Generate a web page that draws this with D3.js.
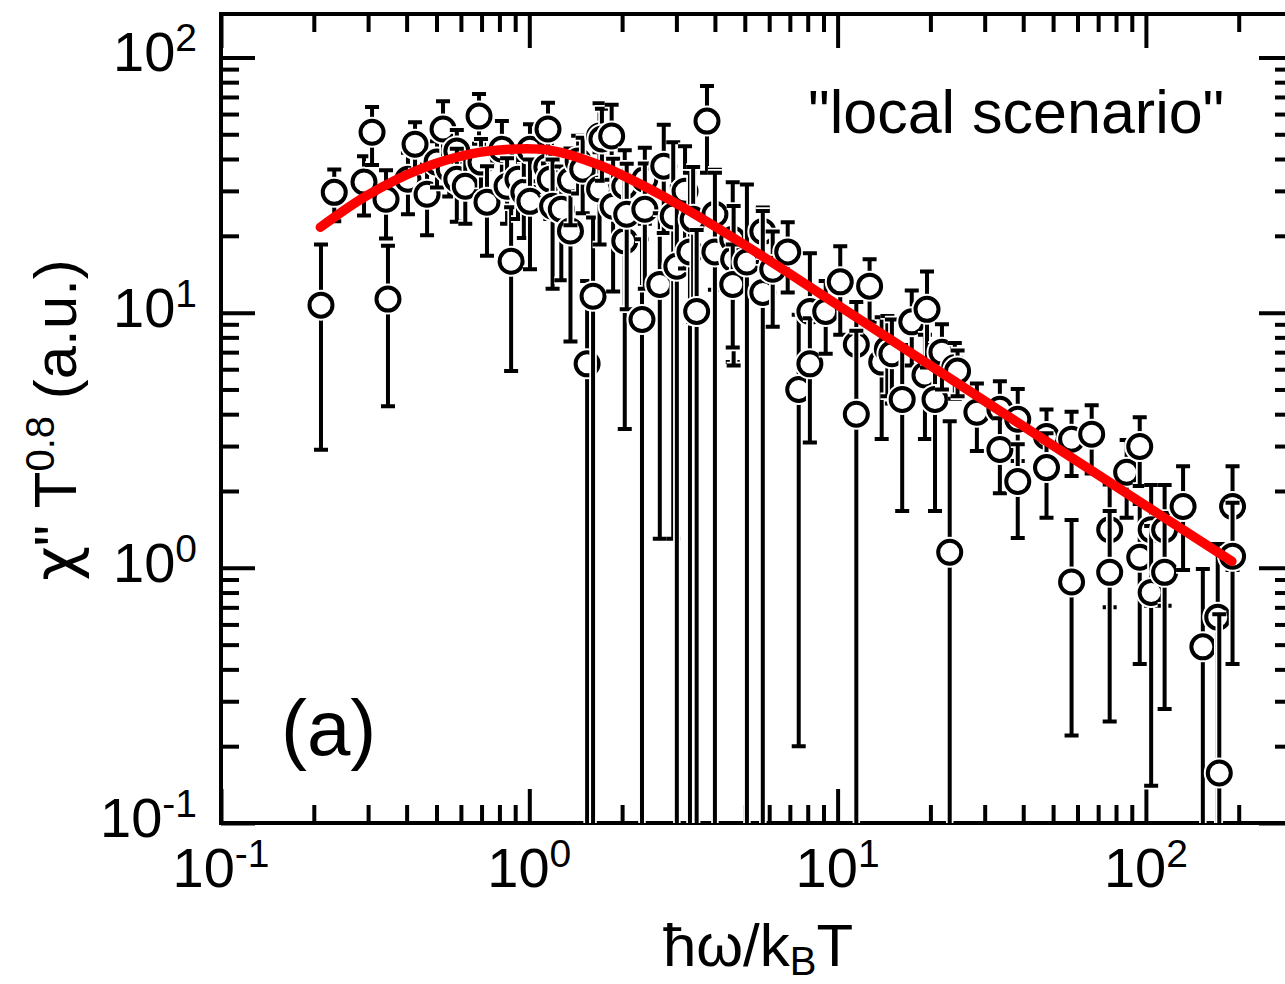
<!DOCTYPE html>
<html>
<head>
<meta charset="utf-8">
<script src="https://cdn.jsdelivr.net/npm/d3@7"></script>
<style>
  body { margin: 0; background: #fff; }
  text { font-family: "Liberation Sans", Arial, Helvetica, sans-serif; fill: #000; }
</style>
</head>
<body>
<svg id="chart" width="1285" height="984"></svg>
<script>
// data: hbar*omega/kBT, chi'' T^0.8, error
const omega = [0.211,0.233,0.291,0.309,0.343,0.348,0.404,0.426,0.466,0.502,0.525,0.55,0.582,0.582,0.62,
  0.687,0.697,0.729,0.815,0.847,0.873,0.919,0.96,1.005,1.005,1.14,1.15,1.17,1.19,1.27,1.36,1.36,1.44,1.49,
  1.54,1.61,1.69,1.69,1.72,1.85,1.87,2.04,2.04,2.07,2.32,2.37,2.37,2.65,2.73,2.93,3.01,3.2,3.32,3.4,3.49,
  3.77,4.0,4.0,4.57,4.6,4.57,5.08,5.72,5.72,6.16,6.89,7.48,8.13,8.13,9.15,10.2,11.5,11.5,12.7,13.9,14.5,
  15.0,16.2,17.4,19.2,19.5,20.7,21.8,23.1,24.0,24.5,28.3,33.6,33.6,38.4,38.4,47.6,47.6,57.4,57.4,66.7,
  76.3,76.3,86.6,95.5,95.5,104,104,115,115,132,153,171,173,191,191];
const chi = [10.7,29.6,32.5,50.9,27.8,11.3,33.3,45.7,29.1,38.9,52.4,36.5,43.0,33.3,31.3,
  58.9,38.9,27.1,43.7,31.3,15.9,33.3,29.6,43.7,27.3,37.2,52.4,33.3,26.1,25.4,20.9,33.0,39.3,36.5,
  6.3,11.6,49.2,30.5,47.9,49.2,26.1,31.3,19.1,24.3,9.4,33.3,25.4,12.9,37.5,23.9,15.2,29.9,17.3,23.2,10.1,
  56.3,24.3,17.3,19.4,16.2,12.9,15.8,20.8,12.0,14.8,17.3,5.0,10.1,6.3,10.1,13.2,7.5,4.0,12.7,6.4,7.2,
  6.9,4.57,9.2,5.7,10.3,4.57,7.0,1.15,6.1,5.9,4.07,4.18,2.91,3.82,2.18,3.27,2.47,3.19,0.88,3.34,
  1.41,0.96,2.37,2.99,1.10,1.41,0.80,1.41,0.96,1.74,0.49,0.64,0.157,1.74,1.11];
const chiErr = [7.8,6.8,8.5,13,8.3,7.0,9,10,9,8,15,8,9,10.6,9,
  13,9,10.4,12.6,9,10,10,10,11,12.5,9,14,10,13.7,12,13.2,11,10,12,
  7,12,17,12,15,16,14,12,15.6,14,10,11,13,11.6,17,22.6,16,15,18,14,11,
  21,12,18,13,10,5.6,16,5,13,6,5.3,4.8,7,3.2,3.2,5,3.5,4.5,3.5,3.2,2.5,
  2.5,2.9,3,2.5,4.2,2.9,2,2.6,1.5,1.2,1.2,1.2,0.95,1.2,0.87,0.9,0.9,0.9,0.66,1.0,
  0.71,0.71,0.8,0.9,0.68,0.7,0.66,0.7,0.68,0.76,0.5,0.6,0.5,0.76,0.69];

// red fit curve
const fitX = [0.21,0.298,0.442,0.641,0.866,1.166,1.694,2.79,4.57,7.53,15.9,43.5,190];
const fitY = [21.6,28.8,36.5,41.8,43.7,43.3,37.8,28.1,19.7,13.4,7.44,3.36,1.06];

const xMajor = [0.1, 1, 10, 100];
const yMajor = [0.1, 1, 10, 100];
const xDomain = [0.1, 300];
const yDomain = [0.1, 148];

const plotL = 221, plotR = 1293, plotT = 14, plotB = 823;
const majorLen = 34, minorLen = 18;

const svg = d3.select("#chart");

const x = d3.scaleLog().domain(xDomain).range([plotL, plotR]);
const y = d3.scaleLog().domain(yDomain).range([plotB, plotT]);

function minors(domain) {
  const out = [];
  for (let d = 0.1; d < domain[1]; d *= 10) {
    for (let k = 2; k <= 9; k++) {
      if (d * k <= domain[1]) out.push(d * k);
    }
  }
  return out;
}

function styleAxis(g) {
  g.select(".domain").remove();
  g.selectAll("line").attr("stroke", "#000").attr("stroke-width", 4);
}

// ticks on all four sides, pointing inward
const axes = [
  [d3.axisBottom(x), `translate(0,${plotB})`, xMajor, minors(xDomain)],
  [d3.axisTop(x), `translate(0,${plotT})`, xMajor, minors(xDomain)],
  [d3.axisLeft(y), `translate(${plotL},0)`, yMajor, minors(yDomain)],
  [d3.axisRight(y), `translate(${plotR},0)`, yMajor, minors(yDomain)]
];
axes.forEach(([ax, tr, maj, mnr]) => {
  svg.append("g").attr("transform", tr)
    .call(ax.tickValues(maj).tickSize(-majorLen).tickFormat(""))
    .call(styleAxis);
  svg.append("g").attr("transform", tr)
    .call(ax.tickValues(mnr).tickSize(-minorLen).tickFormat(""))
    .call(styleAxis);
});

svg.append("rect")
  .attr("x", plotL).attr("y", plotT)
  .attr("width", plotR - plotL).attr("height", plotB - plotT)
  .attr("fill", "none").attr("stroke", "#000").attr("stroke-width", 4);

// tick labels as 10^n
function powerLabel(sel, exp) {
  sel.append("tspan").text("10");
  sel.append("tspan").attr("font-size", 39).attr("dy", -20).text(exp);
}
xMajor.forEach(v => {
  svg.append("text")
    .attr("x", x(v)).attr("y", 887)
    .attr("text-anchor", "middle").attr("font-size", 56)
    .call(powerLabel, Math.round(Math.log10(v)));
});
yMajor.forEach(v => {
  svg.append("text")
    .attr("x", 197).attr("y", y(v) + 14)
    .attr("text-anchor", "end").attr("font-size", 56)
    .call(powerLabel, Math.round(Math.log10(v)));
});

// axis titles
const xt = svg.append("text")
  .attr("x", 758).attr("y", 966)
  .attr("text-anchor", "middle").attr("font-size", 60);
xt.append("tspan").text("ħω/k");
xt.append("tspan").attr("font-size", 40).attr("dy", 9).text("B");
xt.append("tspan").attr("dy", -9).text("T");

const yt = svg.append("text")
  .attr("transform", "translate(76,420) rotate(-90)")
  .attr("text-anchor", "middle").attr("font-size", 60);
yt.append("tspan").attr("font-family", "'DejaVu Sans', sans-serif").text("χ");
yt.append("tspan").text("\" T");
yt.append("tspan").attr("font-size", 40).attr("dy", -22).text("0.8");
yt.append("tspan").attr("dy", 22).text(" (a.u.)");

svg.append("text").attr("x", 808).attr("y", 133).attr("font-size", 61)
  .text("\"local scenario\"");
svg.append("text").attr("x", 281).attr("y", 755).attr("font-size", 78)
  .text("(a)");

// data
svg.append("clipPath").attr("id", "plot")
  .append("rect").attr("x", plotL).attr("y", plotT)
  .attr("width", plotR - plotL).attr("height", plotB - plotT);

const plot = svg.append("g").attr("clip-path", "url(#plot)");

const points = omega.map((w, i) => ({ w, c: chi[i], e: chiErr[i] }));
const capW = 7;

const pt = plot.selectAll("g.pt").data(points).enter().append("g").attr("class", "pt");

pt.each(function(d) {
  const g = d3.select(this);
  const cx = x(d.w);
  const lo = d.c - d.e;
  const yHi = y(d.c + d.e);
  const yLo = lo > yDomain[0] ? y(lo) : plotB + 5;
  const path = `M${cx},${yHi}V${yLo}` +
    `M${cx - capW},${yHi}H${cx + capW}` +
    (lo > yDomain[0] ? `M${cx - capW},${yLo}H${cx + capW}` : "");
  g.append("path").attr("d", path).attr("fill", "none")
    .attr("stroke", "#fff").attr("stroke-width", 7.5);
  g.append("path").attr("d", path).attr("fill", "none")
    .attr("stroke", "#000").attr("stroke-width", 4);
  g.append("circle").attr("cx", cx).attr("cy", y(d.c)).attr("r", 11.5)
    .attr("fill", "#fff").attr("stroke", "#fff").attr("stroke-width", 8);
  g.append("circle").attr("cx", cx).attr("cy", y(d.c)).attr("r", 11.5)
    .attr("fill", "#fff").attr("stroke", "#000").attr("stroke-width", 4);
});

// fit curve
const fit = fitX.map((v, i) => [v, fitY[i]]);
plot.append("path")
  .datum(fit)
  .attr("fill", "none")
  .attr("stroke", "#ff0000")
  .attr("stroke-width", 9.5)
  .attr("stroke-linecap", "round")
  .attr("d", d3.line()
    .x(d => x(d[0]))
    .y(d => y(d[1]))
    .curve(d3.curveCatmullRom.alpha(0.5)));
</script>
</body>
</html>
